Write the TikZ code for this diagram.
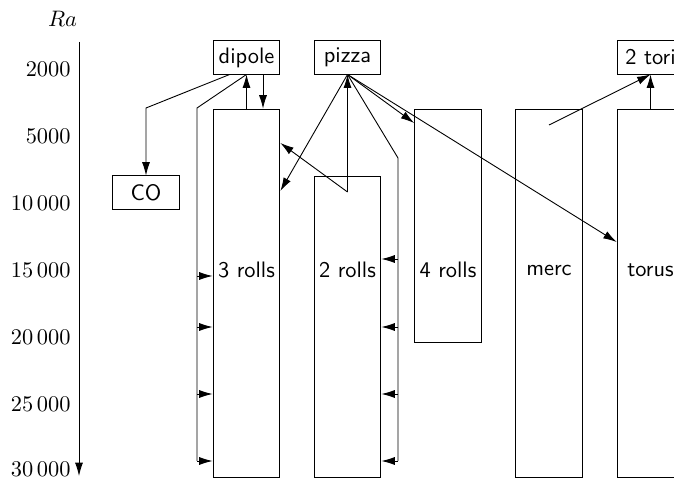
\documentclass[tikz,border=0pt]{standalone}
\usetikzlibrary{arrows.meta, calc}

\begin{document}
\begin{tikzpicture}[x=0.0157cm, y=-0.0157cm,
    box/.style={draw, rectangle, minimum width=1.05cm, minimum height=0.52cm, inner sep=0pt, font=\sffamily},
    col/.style={draw, rectangle, minimum width=1.05cm, inner sep=0pt},
    lbl/.style={font=\sffamily},
    tick/.style={anchor=east, inner sep=0pt},
    arr/.style={-{Latex[length=6pt, width=3.6pt]}}]
    \useasboundingbox (0,0) rectangle (674,479);
    \clip (0,0) rectangle (674,479);

    % The Ra axis
    \node (ra) at (62.5,19) {$Ra$};
    \coordinate (axtop) at (79,42);
    \coordinate (axbot) at (79,476);
    \draw[arr] (axtop) -- (axbot);
    \foreach \v/\y [count=\k] in {2000/69.5, 5000/136.5, 10\thinspace000/203.5, 15\thinspace000/270.5, 20\thinspace000/337.5, 25\thinspace000/404.5, 30\thinspace000/469.5}
        \node[tick] (ra\k) at (71,\y) {\v};

    % Solution boxes
    \node[box] (dipole) at (246.5,57.5) {dipole};
    \node[box] (pizza) at (347.5,57.5) {pizza};
    \node[box] (tori) at (650.5,57.5) {2 tori};
    \node[box] (co) at (146,192.5) {CO};

    % Branch columns
    \node[col, minimum height=5.79cm] (roll3) at (246.5,293.5) {};
    \node[col, minimum height=4.74cm] (roll2) at (347.5,327) {};
    \node[col, minimum height=3.67cm] (roll4) at (448,226) {};
    \node[col, minimum height=5.79cm] (merc) at (549,293.5) {};
    \node[col, minimum height=5.79cm] (torus) at (650.5,293.5) {};
    \node[lbl] (roll3lbl) at (246.5,270) {3 rolls};
    \node[lbl] (roll2lbl) at (347.5,270) {2 rolls};
    \node[lbl] (roll4lbl) at (448,270) {4 rolls};
    \node[lbl] (merclbl) at (549,270) {merc};
    \node[lbl] (toruslbl) at (650.5,270) {torus};

    % Dipole connections
    \coordinate (coknee) at (co.north |- 0,108);
    \draw[arr] ($(dipole.south west)+(17,0)$) -- (coknee) -- (co.north);
    \coordinate (loopL) at (197,108);
    \draw (dipole.south) -- (loopL) -- (loopL |- 0,461);
    \foreach \y in {276,327,394,461}
        \draw[arr] (loopL |- 0,\y) -- (roll3.west |- 0,\y);
    \draw[arr] (roll3.north) -- (dipole.south);
    \draw[arr] ($(dipole.south)+(16.5,0)$) -- ($(roll3.north)+(16.5,0)$);

    % Pizza connections
    \draw[arr] (pizza.south) -- (roll3.east |- 0,191);
    \coordinate (r2top) at (347.5,192);
    \draw[arr] (r2top) -- (pizza.south);
    \draw[arr] (r2top) -- (roll3.east |- 0,143);
    \coordinate (loopR) at (398,158);
    \draw (pizza.south) -- (loopR) -- (loopR |- 0,461);
    \foreach \y in {259,327,394,461}
        \draw[arr] (loopR |- 0,\y) -- (roll2.east |- 0,\y);
    \draw[arr] (pizza.south) -- (roll4.west |- 0,123);
    \draw[arr] (pizza.south) -- (torus.west |- 0,242);

    % Two tori
    \coordinate (mercsrc) at (549,125);
    \draw[arr] (mercsrc) -- (tori.south);
    \draw[arr] (torus.north) -- (tori.south);
\end{tikzpicture}
\end{document}
